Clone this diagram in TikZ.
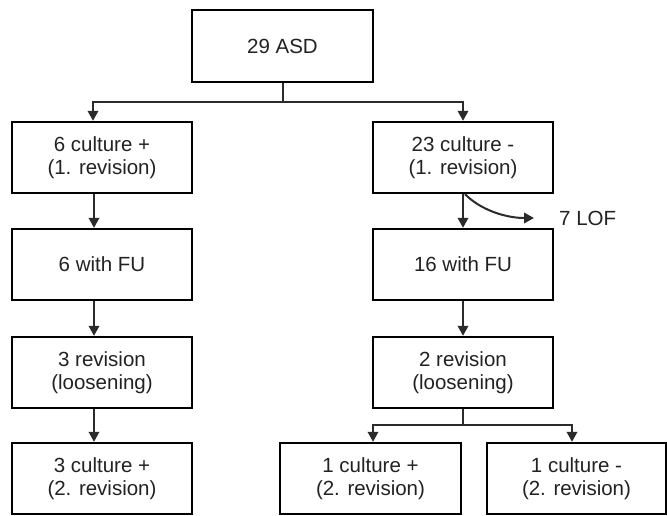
\documentclass[tikz,border=0pt]{standalone}
\usepackage{fontspec}
\setmainfont{Liberation Sans}
\usetikzlibrary{arrows.meta}
\definecolor{ink}{HTML}{222222}
\definecolor{lineink}{HTML}{2B2B2B}
\begin{document}
\begin{tikzpicture}[x=1pt,y=-1pt,
  box/.style={draw=black,line width=2.4pt,minimum width=180pt,minimum height=71pt,
    inner sep=0pt,align=center,text=ink,font=\fontsize{20.5}{23.5}\selectfont},
  conn/.style={draw=lineink,line width=2pt},
  arr/.style={conn,-{Triangle[length=10pt,width=10.5pt]}},
  lbl/.style={text=ink,font=\fontsize{20.5}{23.5}\selectfont,inner sep=0pt}]
\useasboundingbox (0,0) rectangle (667,515);
% row 1
\node[box,minimum width=181pt,minimum height=72pt] (asd) at (282.5,46) {29 ASD};
% row 2
\node[box] (c1p) at (102,157.5) {6 culture +\\(1. revision)};
\node[box] (c1m) at (463,157.5) {23 culture -\\(1. revision)};
% row 3
\node[box] (fu6) at (102,264.5) {6 with FU};
\node[box] (fu16) at (463,264.5) {16 with FU};
% row 4
\node[box] (rev3) at (102,372.5) {3 revision\\(loosening)};
\node[box] (rev2) at (463,372.5) {2 revision\\(loosening)};
% row 5
\node[box] (c2p3) at (102,478.5) {3 culture +\\(2. revision)};
\node[box,minimum width=181pt] (c2p1) at (370.5,478.5) {1 culture +\\(2. revision)};
\node[box,minimum width=179pt] (c2m1) at (576.5,478.5) {1 culture -\\(2. revision)};
% LOF label
\node[lbl,anchor=west] (lof) at (559,218) {7 LOF};
% connectors
\draw[conn] (asd.south) -- ++(0,19) coordinate (j1);
\draw[arr] (j1) -| ([xshift=-9pt]c1p.north);
\draw[arr] (j1) -| (c1m.north);
\draw[arr] ([xshift=-8pt]c1p.south) -- ([xshift=-8pt]fu6.north);
\draw[arr] (c1m.south) -- (fu16.north);
\coordinate (lofend) at ([xshift=-25pt]lof.west);
\draw[arr] ([xshift=2pt]c1m.south) .. controls ([xshift=18pt,yshift=-16pt]c1m.south) and ([xshift=-28pt]lofend) .. (lofend);
\draw[arr] ([xshift=-8pt]fu6.south) -- ([xshift=-8pt]rev3.north);
\draw[arr] (fu16.south) -- (rev2.north);
\draw[arr] ([xshift=-8pt]rev3.south) -- ([xshift=-8pt]c2p3.north);
\draw[conn] (rev2.south) -- ++(0,16) coordinate (j2);
\draw[arr] (j2) -| ([xshift=2.5pt]c2p1.north);
\draw[arr] (j2) -| ([xshift=-4.5pt]c2m1.north);
\end{tikzpicture}
\end{document}
